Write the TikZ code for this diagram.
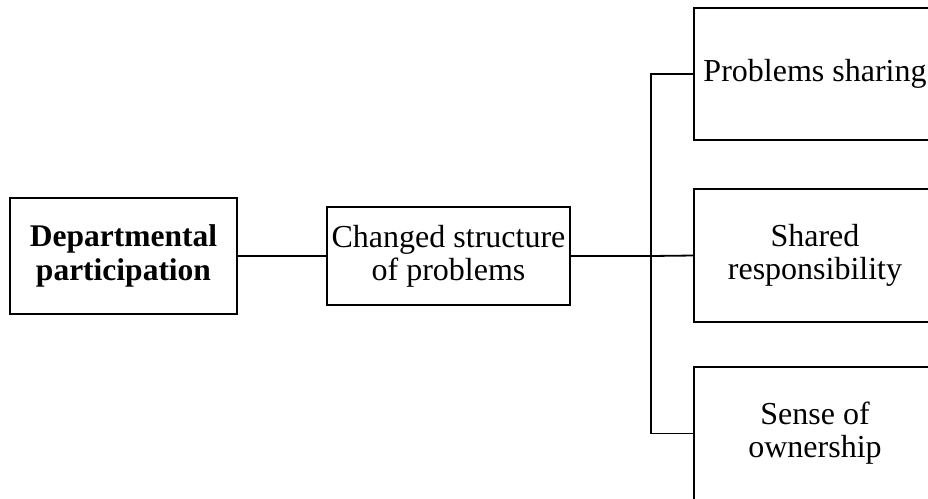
\documentclass[tikz,border=0pt]{standalone}
\usepackage{fontspec}
\setmainfont{Liberation Serif}
\begin{document}
\begin{tikzpicture}[x=1pt,y=-1pt,
  box/.style={draw,line width=1.8pt,inner sep=0pt,align=center,
    font=\fontsize{32}{33}\selectfont},
  opentext/.style={box,draw=none},
  link/.style={line width=1.8pt}]
\useasboundingbox (0,0) rectangle (928,498);
% left chain
\node[box,minimum width=227pt,minimum height=116pt,
  font=\fontsize{31.5}{34}\selectfont\bfseries] (dep) at (123.5,256)
  {Departmental\\participation};
\node[box,minimum width=243pt,minimum height=98pt] (chg) at (448.5,256)
  {Changed structure\\of problems};
% outcome boxes, running on past the right and bottom edges of the page
\node[opentext,minimum width=240pt,minimum height=130pt] (ps) at (815,74)
  {Problems sharing};
\node[opentext,minimum width=240pt,minimum height=131pt] (sr) at (815,255.5)
  {Shared\\responsibility};
\node[opentext,minimum width=240pt,minimum height=131pt] (so) at (815,433.5)
  {Sense of\\ownership};
\draw[link] ([xshift=40pt]ps.north east) -- (ps.north west)
  -- (ps.south west) -- ([xshift=40pt]ps.south east);
\draw[link] ([xshift=40pt]sr.north east) -- (sr.north west)
  -- (sr.south west) -- ([xshift=40pt]sr.south east);
\draw[link] ([xshift=40pt]so.north east) -- (so.north west)
  -- ([yshift=-40pt]so.south west);
% connectors
\coordinate (bus) at (651,256);
\draw[link] (dep.east) -- (chg.west);
\draw[link] (chg.east) -- (bus);
\draw[link] (bus) -- (sr.west);
\draw[link] (ps.west) -- (ps.west -| bus) -- (so.west -| bus) -- (so.west);
\end{tikzpicture}
\end{document}
